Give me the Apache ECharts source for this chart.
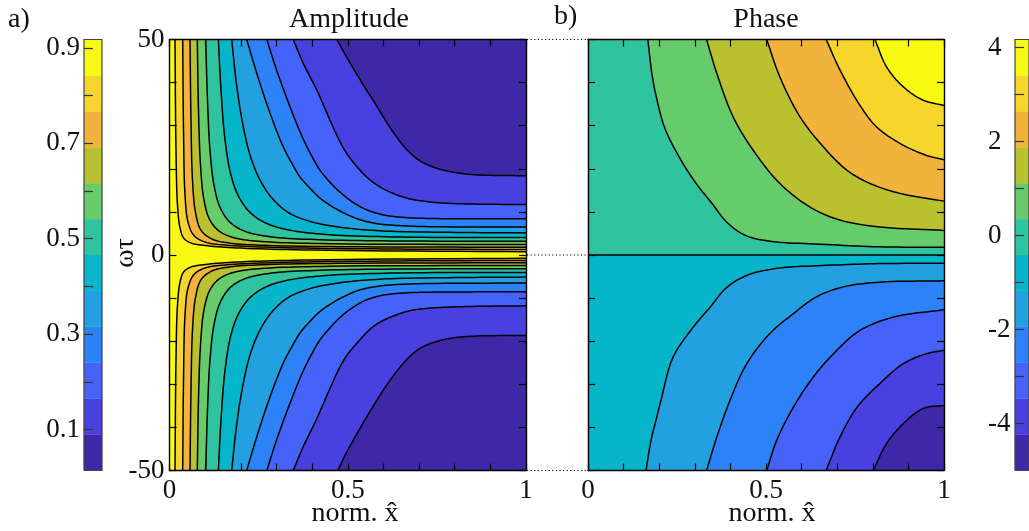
<!DOCTYPE html>
<html>
<head>
<meta charset="utf-8">
<script src="https://cdn.jsdelivr.net/npm/echarts@6/dist/echarts.min.js"></script>
<style>
  html, body { margin: 0; padding: 0; background: #fff; }
  #chart { width: 1029px; height: 531px; }
</style>
</head>
<body>
<div id="chart"></div>
<script>
// ---- colour bands, highest level first ----
const bandColors = ['#F9FA14', '#F6D62D', '#F2B33D', '#B9C131', '#66CB6A', '#2FC3A0',
                    '#07B5CB', '#22A0E0', '#2D82F7', '#4563FA', '#4841E0', '#3E28A8'];

// ---- amplitude colour bar ----
const ampLevels = [0.0141, 0.0894, 0.1647, 0.2400, 0.3153, 0.3906, 0.4659,
                   0.5411, 0.6164, 0.6917, 0.7670, 0.8423, 0.9176];
const ampTicks = [0.1, 0.2, 0.3, 0.4, 0.5, 0.6, 0.7, 0.8, 0.9];
const ampTickLabels = [0.1, 0.3, 0.5, 0.7, 0.9];

// ---- phase colour bar ----
const phaseLevels = [-5.0, -4.236, -3.472, -2.707, -1.943, -1.179, -0.415,
                     0.349, 1.113, 1.877, 2.642, 3.406, 4.17];
const phaseTicks = [-4, -3, -2, -1, 0, 1, 2, 3, 4];
const phaseTickLabels = [-4, -2, 0, 2, 4];

// ---- panel axes ----
const xTicks = [0, 0.1, 0.2, 0.3, 0.4, 0.5, 0.6, 0.7, 0.8, 0.9, 1];
const xTickLabels = [0, 0.5, 1];
const wTicks = [-50, -40, -30, -20, -10, 0, 10, 20, 30, 40, 50];
const wTickLabels = [-50, 0, 50];
const connectorLevels = [50, 0, -50];

// ---- amplitude contours, ωτ > 0 (outermost / lowest level first) ----
const ampUpper = [
  [[0.469,50],[0.50,45.5],[0.525,42.0],[0.55,38.6],[0.575,35.4],[0.60,32.0],[0.63,28.2],[0.665,24.5],[0.70,22.0],[0.74,20.4],[0.79,19.3],[0.86,18.6],[0.93,18.45],[1,18.4]],
  [[0.347,50],[0.375,44.5],[0.413,38.3],[0.45,31.3],[0.478,26.3],[0.50,23.2],[0.534,19.7],[0.56,17.6],[0.59,15.8],[0.63,14.2],[0.67,13.1],[0.72,12.4],[0.78,12.0],[0.87,11.8],[1,11.7]],
  [[0.273,50],[0.30,43.0],[0.338,34.4],[0.375,26.9],[0.40,22.8],[0.422,19.7],[0.45,16.9],[0.478,14.6],[0.51,12.5],[0.55,10.6],[0.60,9.3],[0.66,8.7],[0.75,8.45],[0.87,8.4],[1,8.4]],
  [[0.2165,50],[0.245,42.1],[0.282,32.9],[0.319,25.1],[0.345,21.0],[0.366,18.1],[0.395,15.4],[0.422,13.2],[0.455,11.3],[0.49,9.7],[0.53,8.3],[0.58,7.3],[0.65,6.8],[0.75,6.55],[1,6.5]],
  [[0.1745,50],[0.1865,40.6],[0.2034,31.3],[0.2258,23.2],[0.2539,17.4],[0.2875,13.2],[0.3324,9.9],[0.394,7.8],[0.478,6.45],[0.59,5.6],[0.759,5.28],[1,5.12]],
  [[0.137,50],[0.1445,38.3],[0.1557,26.7],[0.1725,18.5],[0.195,13.4],[0.2258,9.9],[0.2707,7.4],[0.338,5.75],[0.45,4.7],[0.647,4.17],[1,4.05]],
  [[0.1015,50],[0.1066,35.9],[0.1136,24.3],[0.1248,16.2],[0.1417,11.1],[0.1697,7.6],[0.2118,5.5],[0.2819,4.24],[0.4222,3.54],[0.647,3.26],[1,3.19]],
  [[0.078,50],[0.0813,33.6],[0.087,20.8],[0.0968,12.7],[0.1136,8.07],[0.1417,5.4],[0.1865,3.9],[0.2679,3.08],[0.45,2.61],[1,2.43]],
  [[0.0575,50],[0.0603,31.3],[0.0645,17.4],[0.0729,9.9],[0.0884,5.75],[0.119,3.7],[0.17,2.75],[0.28,2.2],[0.5,1.92],[1,1.8]],
  [[0.037,50],[0.0393,29],[0.0435,14],[0.052,7.6],[0.069,4.5],[0.1,3.0],[0.156,2.3],[0.3,1.75],[0.6,1.4],[1,1.27]],
  [[0.0154,50],[0.0182,24.3],[0.0224,11.6],[0.0295,6.3],[0.04,3.9],[0.06,2.8],[0.1,2.2],[0.2,1.6],[0.4,1.15],[1,0.75]]
];

// ---- amplitude contours, ωτ < 0 ----
const ampLower = [
  [[0.472,-50],[0.50,-45.3],[0.525,-41.6],[0.55,-38.0],[0.575,-34.6],[0.60,-31.3],[0.63,-27.8],[0.665,-24.3],[0.70,-21.8],[0.74,-20.3],[0.79,-19.3],[0.86,-18.8],[0.93,-18.7],[1,-18.7]],
  [[0.347,-50],[0.375,-44.5],[0.413,-38.0],[0.45,-31.0],[0.478,-26.0],[0.50,-23.0],[0.534,-19.7],[0.56,-17.4],[0.59,-15.6],[0.63,-14.1],[0.67,-13.0],[0.72,-12.4],[0.78,-12.1],[0.87,-11.9],[1,-11.8]],
  [[0.273,-50],[0.30,-43.0],[0.338,-34.4],[0.375,-26.9],[0.40,-22.8],[0.422,-19.7],[0.45,-16.9],[0.478,-14.5],[0.51,-12.4],[0.55,-10.5],[0.60,-9.3],[0.66,-8.8],[0.75,-8.6],[0.87,-8.55],[1,-8.5]],
  [[0.2165,-50],[0.245,-42.1],[0.282,-32.9],[0.319,-25.1],[0.345,-21.0],[0.366,-18.1],[0.395,-15.3],[0.422,-13.1],[0.455,-11.2],[0.49,-9.6],[0.53,-8.2],[0.58,-7.3],[0.65,-6.8],[0.75,-6.6],[1,-6.5]],
  [[0.1745,-50],[0.1865,-40.6],[0.2034,-31.3],[0.2258,-23.2],[0.2539,-17.4],[0.2875,-13.2],[0.3324,-9.9],[0.394,-7.8],[0.478,-6.45],[0.59,-5.6],[0.759,-5.28],[1,-5.12]],
  [[0.137,-50],[0.1445,-38.3],[0.1557,-26.7],[0.1725,-18.5],[0.195,-13.4],[0.2258,-9.9],[0.2707,-7.4],[0.338,-5.75],[0.45,-4.7],[0.647,-4.17],[1,-4.05]],
  [[0.1015,-50],[0.1066,-35.9],[0.1136,-24.3],[0.1248,-16.2],[0.1417,-11.1],[0.1697,-7.6],[0.2118,-5.5],[0.2819,-4.24],[0.4222,-3.54],[0.647,-3.26],[1,-3.19]],
  [[0.078,-50],[0.0813,-33.6],[0.087,-20.8],[0.0968,-12.7],[0.1136,-8.07],[0.1417,-5.4],[0.1865,-3.9],[0.2679,-3.08],[0.45,-2.61],[1,-2.43]],
  [[0.0575,-50],[0.0603,-31.3],[0.0645,-17.4],[0.0729,-9.9],[0.0884,-5.75],[0.119,-3.7],[0.17,-2.75],[0.28,-2.2],[0.5,-1.92],[1,-1.8]],
  [[0.037,-50],[0.0393,-29],[0.0435,-14],[0.052,-7.6],[0.069,-4.5],[0.1,-3.0],[0.156,-2.3],[0.3,-1.75],[0.6,-1.4],[1,-1.27]],
  [[0.0154,-50],[0.0182,-24.3],[0.0224,-11.6],[0.0295,-6.3],[0.04,-3.9],[0.06,-2.8],[0.1,-2.2],[0.2,-1.6],[0.4,-1.15],[1,-0.75]]
];

// ---- phase contours, ωτ > 0 (lowest level first) ----
const phaseUpper = [
  [[0.168,50],[0.180,41.8],[0.194,35.9],[0.216,29.4],[0.253,23.2],[0.301,16.9],[0.348,12.0],[0.390,7.6],[0.441,4.6],[0.511,3.2],[0.652,2.5],[0.820,1.9],[1,1.8]],
  [[0.333,50],[0.362,42.1],[0.408,32.0],[0.464,24.3],[0.539,16.6],[0.624,11.1],[0.708,8.1],[0.820,6.5],[1,5.7]],
  [[0.502,50],[0.539,41.3],[0.596,32.0],[0.661,25.1],[0.727,19.7],[0.792,16.6],[0.876,14.3],[1,12.5]],
  [[0.669,50],[0.708,42.9],[0.764,34.7],[0.811,29.7],[0.876,25.9],[0.951,23.1],[1,22.1]],
  [[0.806,50],[0.839,43.6],[0.886,39.0],[0.942,35.9],[1,34.7]]
];

// ---- phase contours, ωτ < 0 (highest level first) ----
const phaseLower = [
  [[0.163,-50],[0.177,-43.0],[0.191,-38.3],[0.205,-33.7],[0.239,-23.7],[0.295,-16.8],[0.343,-12.1],[0.390,-7.5],[0.447,-4.7],[0.531,-3.1],[0.671,-2.4],[0.820,-2.0],[1,-1.9]],
  [[0.333,-50],[0.362,-42.2],[0.399,-33.7],[0.446,-25.2],[0.511,-18.2],[0.577,-13.6],[0.642,-9.7],[0.717,-7.4],[0.820,-6.3],[1,-6.0]],
  [[0.502,-50],[0.530,-43.0],[0.577,-35.3],[0.633,-28.3],[0.699,-22.1],[0.764,-17.5],[0.858,-14.4],[1,-12.7]],
  [[0.669,-50],[0.708,-42.2],[0.756,-35.3],[0.820,-29.8],[0.886,-25.2],[0.951,-22.9],[1,-22.1]],
  [[0.801,-50],[0.839,-43.7],[0.886,-39.1],[0.942,-35.6],[1,-34.9]]
];

// phase jump along ωτ = 0
const phaseZero = [[0, 0], [1, 0]];

// ------------------------------------------------------------------
const FONT = '"Liberation Serif", "DejaVu Serif", serif';
const INK = '#111';
const chart = echarts.init(document.getElementById('chart'), null, { renderer: 'canvas' });

// centripetal Catmull-Rom through screen-space points (drawing only)
function smoothPath(pts, steps) {
  if (pts.length < 3) return pts.slice();
  const ext = [];
  const n = pts.length;
  ext.push([2 * pts[0][0] - pts[1][0], 2 * pts[0][1] - pts[1][1]]);
  for (const p of pts) ext.push(p);
  ext.push([2 * pts[n - 1][0] - pts[n - 2][0], 2 * pts[n - 1][1] - pts[n - 2][1]]);
  const out = [pts[0]];
  const tj = (ti, a, b) => ti + Math.max(Math.sqrt(Math.hypot(b[0] - a[0], b[1] - a[1])), 1e-4);
  const lerp = (a, b, ta, tb, t) => {
    const w = (t - ta) / (tb - ta);
    return [a[0] + (b[0] - a[0]) * w, a[1] + (b[1] - a[1]) * w];
  };
  for (let i = 1; i < ext.length - 2; i++) {
    const p0 = ext[i - 1], p1 = ext[i], p2 = ext[i + 1], p3 = ext[i + 2];
    const t0 = 0, t1 = tj(t0, p0, p1), t2 = tj(t1, p1, p2), t3 = tj(t2, p2, p3);
    for (let s = 1; s <= steps; s++) {
      const t = t1 + (t2 - t1) * s / steps;
      const a1 = lerp(p0, p1, t0, t1, t), a2 = lerp(p1, p2, t1, t2, t), a3 = lerp(p2, p3, t2, t3, t);
      const b1 = lerp(a1, a2, t0, t2, t), b2 = lerp(a2, a3, t1, t3, t);
      out.push(lerp(b1, b2, t1, t2, t));
    }
  }
  return out;
}

// filled region on the far side of a contour, closed through a panel corner
function region(pts, cornerY, color) {
  return { pts: pts, corner: [1, cornerY], fill: color, curve: true };
}
function rect(x0, x1, y0, y1, color) {
  return { pts: [[x0, y0], [x1, y0], [x1, y1], [x0, y1]], fill: color };
}

// amplitude panel: yellow everywhere, lower levels layered towards the upper/lower right
const ampFills = [rect(0, 1, -50, 50, bandColors[0])];
for (let k = ampUpper.length - 1; k >= 0; k--) {
  ampFills.push(region(ampUpper[k], 50, bandColors[11 - k]));
  ampFills.push(region(ampLower[k], -50, bandColors[11 - k]));
}
const ampLines = ampUpper.concat(ampLower).map(p => ({ pts: p, curve: true }));

// phase panel
const phaseFills = [rect(0, 1, 0, 50, bandColors[5]), rect(0, 1, -50, 0, bandColors[6])];
phaseUpper.forEach((p, k) => phaseFills.push(region(p, 50, bandColors[4 - k])));
phaseLower.forEach((p, k) => phaseFills.push(region(p, -50, bandColors[7 + k])));
const phaseLines = phaseUpper.concat(phaseLower).map(p => ({ pts: p, curve: true }))
  .concat([{ pts: phaseZero }]);

// colour bars
function barShapes(levels) {
  const out = [];
  for (let i = 0; i < 12; i++) {
    out.push(rect(0, 1, levels[i], levels[i + 1], bandColors[11 - i]));
  }
  out.push({ pts: [[0, levels[0]], [1, levels[0]], [1, levels[12]], [0, levels[12]], [0, levels[0]]], outline: true });
  return out;
}

function shapeSeries(xi, yi, shapes, z) {
  return {
    type: 'custom', xAxisIndex: xi, yAxisIndex: yi, z: z, silent: true, clip: false,
    data: shapes.map(() => [0.5, 0.5]),
    renderItem: (params, api) => {
      const s = shapes[params.dataIndex];
      let points = s.pts.map(p => api.coord(p));
      if (s.curve) points = smoothPath(points, 10);
      if (s.fill) {
        if (s.corner) points = points.concat([api.coord(s.corner)]);
        return { type: 'polygon', shape: { points }, style: { fill: s.fill, stroke: s.fill, lineWidth: 0.3 } };
      }
      if (s.outline) {
        return { type: 'polyline', shape: { points }, style: { stroke: '#444', lineWidth: 1.2, fill: null } };
      }
      return { type: 'polyline', shape: { points }, style: { stroke: '#000', lineWidth: 1.5, fill: null, lineJoin: 'round' } };
    }
  };
}

const tickText = { fontFamily: FONT, fontSize: 27, color: INK };

function frameX(grid, pos, withLabels) {
  return {
    type: 'value', gridIndex: grid, position: pos, min: 0, max: 1, z: 5,
    axisLine: { show: true, onZero: false, lineStyle: { color: '#000', width: 1.4 } },
    axisTick: { show: true, inside: true, length: 7, customValues: xTicks, lineStyle: { color: '#000', width: 1.2 } },
    axisLabel: withLabels ? Object.assign({ show: true, customValues: xTickLabels, margin: 7 }, tickText) : { show: false },
    splitLine: { show: false }
  };
}
function frameY(grid, pos, withLabels) {
  return {
    type: 'value', gridIndex: grid, position: pos, min: -50, max: 50, z: 5,
    axisLine: { show: true, onZero: false, lineStyle: { color: '#000', width: 1.4 } },
    axisTick: { show: true, inside: true, length: 7, customValues: wTicks, lineStyle: { color: '#000', width: 1.2 } },
    axisLabel: withLabels ? Object.assign({ show: true, customValues: wTickLabels, margin: 5 }, tickText) : { show: false },
    splitLine: { show: false }
  };
}
function barX(grid) {
  return { type: 'value', gridIndex: grid, min: 0, max: 1, show: false };
}
function barY(grid, levels, ticks, labels, labelAlign, margin) {
  return {
    type: 'value', gridIndex: grid, position: 'left', min: levels[0], max: levels[12], z: 5,
    axisLine: { show: false },
    axisTick: { show: true, inside: true, length: 9, customValues: ticks, lineStyle: { color: '#333', width: 1.2 } },
    axisLabel: Object.assign({ show: true, customValues: labels, margin: margin, align: labelAlign }, tickText),
    splitLine: { show: false }
  };
}

const titleFont = '28px ' + FONT;
const option = {
  animation: false,
  backgroundColor: '#fff',
  grid: [
    { left: 84, top: 39.5, width: 18, height: 431 },
    { left: 169.5, top: 39.5, width: 356.5, height: 431 },
    { left: 588, top: 39.5, width: 356, height: 431 },
    { left: 1015, top: 39.5, width: 18, height: 431 }
  ],
  xAxis: [
    barX(0),
    frameX(1, 'bottom', true), frameX(1, 'top', false),
    frameX(2, 'bottom', true), frameX(2, 'top', false),
    barX(3)
  ],
  yAxis: [
    barY(0, ampLevels, ampTicks, ampTickLabels, 'right', 4),
    frameY(1, 'left', true), frameY(1, 'right', false),
    frameY(2, 'left', false), frameY(2, 'right', false),
    barY(3, phaseLevels, phaseTicks, phaseTickLabels, 'left', 27)
  ],
  series: [
    shapeSeries(0, 0, barShapes(ampLevels), 2),
    shapeSeries(1, 1, ampFills, 2),
    shapeSeries(1, 1, ampLines, 3),
    shapeSeries(3, 3, phaseFills, 2),
    shapeSeries(3, 3, phaseLines, 3),
    shapeSeries(5, 5, barShapes(phaseLevels), 2)
  ],
  graphic: [
    { type: 'text', x: 8, y: 6, style: { text: 'a)', font: titleFont, fill: INK } },
    { type: 'text', x: 554, y: 3, style: { text: 'b)', font: titleFont, fill: INK } },
    { type: 'text', x: 349, y: 6, style: { text: 'Amplitude', font: titleFont, fill: INK, align: 'center', verticalAlign: 'top' } },
    { type: 'text', x: 766, y: 6, style: { text: 'Phase', font: titleFont, fill: INK, align: 'center', verticalAlign: 'top' } },
    { type: 'text', x: 355, y: 500, style: { text: 'norm. x\u0302', font: titleFont, fill: INK, align: 'center', verticalAlign: 'top' } },
    { type: 'text', x: 772, y: 500, style: { text: 'norm. x\u0302', font: titleFont, fill: INK, align: 'center', verticalAlign: 'top' } },
    { type: 'text', x: 126, y: 253, rotation: Math.PI / 2, style: { text: 'ωτ', font: titleFont, fill: INK, align: 'center', verticalAlign: 'middle' } }
  ]
};
chart.setOption(option);

// dotted connectors between the two panels at matching ωτ
const connectors = connectorLevels.map(v => {
  const a = chart.convertToPixel({ xAxisIndex: 1, yAxisIndex: 1 }, [1, v]);
  const b = chart.convertToPixel({ xAxisIndex: 3, yAxisIndex: 3 }, [0, v]);
  return {
    type: 'line', silent: true, z: 1,
    shape: { x1: a[0] + 1, y1: a[1], x2: b[0] - 1, y2: b[1] },
    style: { stroke: '#000', lineWidth: 1, lineDash: [1.2, 2.4] }
  };
});
chart.setOption({ graphic: option.graphic.concat(connectors) });
</script>
</body>
</html>
